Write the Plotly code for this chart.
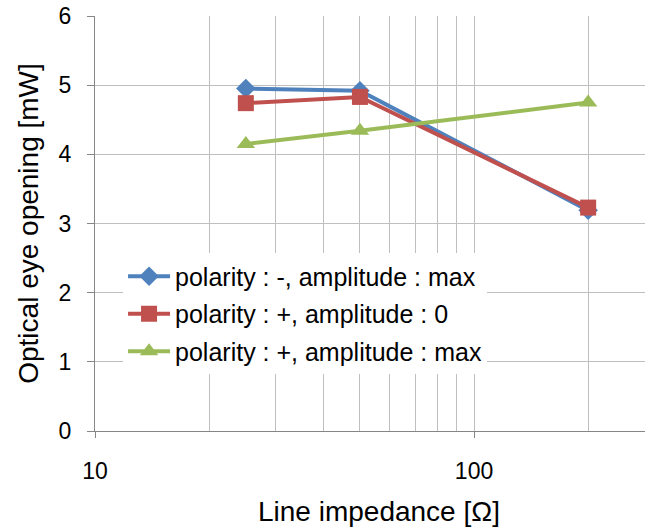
import plotly.graph_objects as go

# Line impedance values (ohm)
impedance = [25, 50, 200]

# Optical eye opening (mW) per drive setting
neg_max = [4.95, 4.92, 3.19]
pos_zero = [4.74, 4.83, 3.23]
pos_max = [4.15, 4.34, 4.75]

series_names = [
    "polarity : -, amplitude : max",
    "polarity : +, amplitude : 0",
    "polarity : +, amplitude : max",
]
colors = ["#4F81BD", "#C0504D", "#9BBB59"]
symbols = ["diamond", "square", "triangle-up"]
marker_sizes = [15, 16, 16]

x_major = [10, 100]
x_minor = [20, 30, 40, 50, 60, 70, 80, 90, 200]

FONT = "Liberation Sans, Arial, sans-serif"

fig = go.Figure()
for i, (name, ys) in enumerate(zip(series_names, [neg_max, pos_zero, pos_max])):
    fig.add_trace(go.Scatter(
        x=impedance, y=ys, name=name, mode="lines+markers",
        legendgroup=f"g{i}",
        line=dict(color=colors[i], width=4),
        marker=dict(symbol=symbols[i], size=marker_sizes[i], color=colors[i]),
    ))

fig.update_layout(
    width=645, height=531,
    margin=dict(l=95, r=0, t=16, b=100),
    paper_bgcolor="white", plot_bgcolor="white",
    font=dict(family=FONT, size=23, color="black"),
    showlegend=True,
    legend=dict(
        x=0.051, y=0.428, xanchor="left", yanchor="top",
        bgcolor="white", borderwidth=0,
        font=dict(family=FONT, size=25, color="black"),
        tracegroupgap=2, itemwidth=42,
    ),
)

fig.update_xaxes(
    type="log", range=[1, 2.451],
    tickmode="array", tickvals=x_major, ticktext=["10", "100"],
    ticks="outside", ticklen=6, tickcolor="#868686", tickwidth=1,
    showgrid=True, gridcolor="#BFBFBF", gridwidth=1,
    minor=dict(tickmode="array", tickvals=x_minor, showgrid=True,
               gridcolor="#BFBFBF", gridwidth=1, ticks=""),
    showline=True, linecolor="#868686", linewidth=1,
    tickfont=dict(size=23), ticklabelstandoff=13,
    zeroline=False,
)

fig.update_yaxes(
    range=[0, 6], dtick=1, tick0=0,
    ticks="outside", ticklen=7, tickcolor="#868686", tickwidth=1,
    showgrid=True, gridcolor="#BFBFBF", gridwidth=1,
    showline=True, linecolor="#868686", linewidth=1,
    tickfont=dict(size=23), ticklabelstandoff=11,
    title=dict(text="Optical eye opening [mW]", font=dict(size=28), standoff=11),
    zeroline=False,
)

# x-axis title, centred on the full (wider) plot span
fig.add_annotation(
    text="Line impedance [Ω]", xref="paper", yref="paper",
    x=0.516, y=-0.195, xanchor="center", yanchor="middle",
    showarrow=False, font=dict(family=FONT, size=28, color="black"),
)

fig.write_html("out.html")
